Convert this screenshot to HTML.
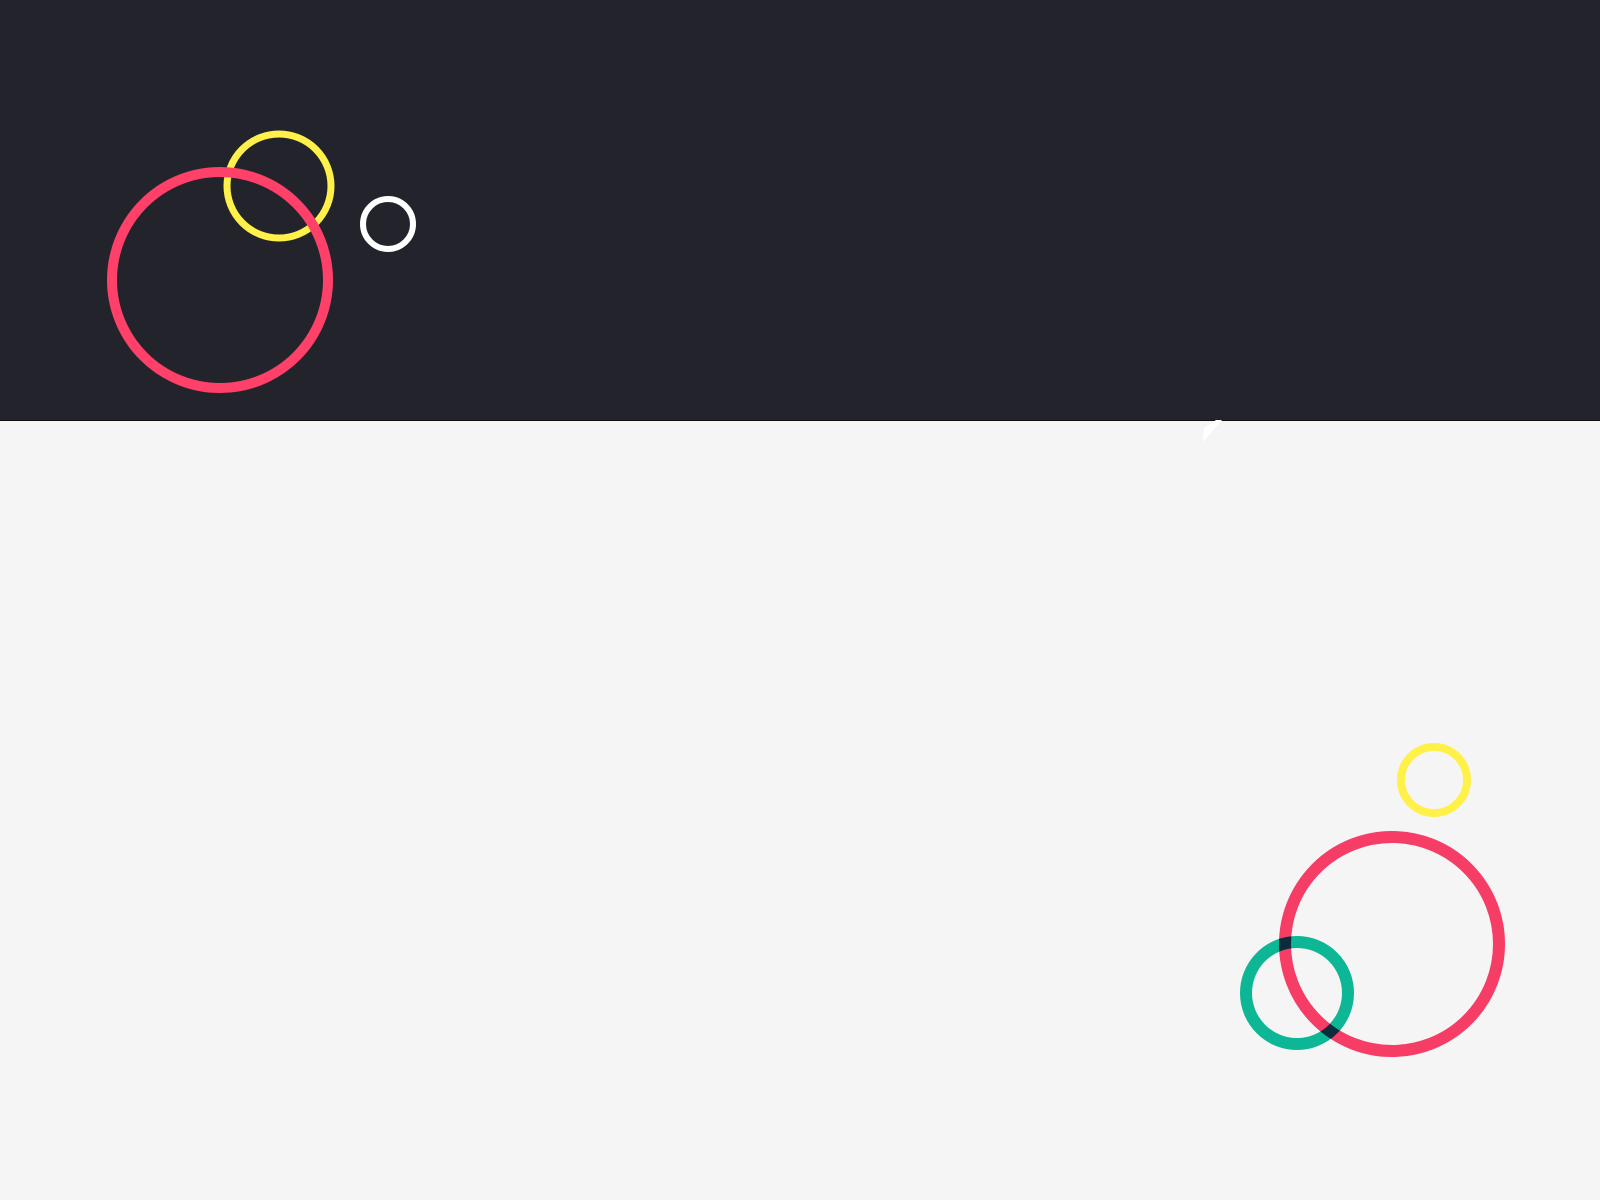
<!DOCTYPE html>
<html><head><meta charset="utf-8"><style>
html,body{margin:0;padding:0;width:1600px;height:1200px;overflow:hidden;background:#f5f5f5;font-family:"Liberation Sans",sans-serif}
</style></head><body>
<svg width="1600" height="1200" viewBox="0 0 1600 1200">
<rect x="0" y="0" width="1600" height="420" fill="#23232c"/>
<line x1="0" y1="420.5" x2="1600" y2="420.5" stroke="#111" stroke-width="1"/>
<polygon points="1204,428 1216,420 1222,420 1203,442" fill="#ffffff"/>
<circle cx="279" cy="186" r="52" fill="none" stroke="#fff04a" stroke-width="7"/>
<circle cx="220" cy="280" r="108" fill="none" stroke="#ff4069" stroke-width="10"/>
<circle cx="388" cy="224" r="25" fill="none" stroke="#ffffff" stroke-width="6"/>
<g style="isolation:isolate">
<circle cx="1434" cy="780" r="33" fill="none" stroke="#fff04a" stroke-width="8"/>
<circle cx="1392" cy="944" r="107" fill="none" stroke="#f53d66" stroke-width="12" style="mix-blend-mode:multiply"/>
<circle cx="1297" cy="993" r="51" fill="none" stroke="#0db694" stroke-width="12" style="mix-blend-mode:multiply"/>
</g>
</svg>
</body></html>
